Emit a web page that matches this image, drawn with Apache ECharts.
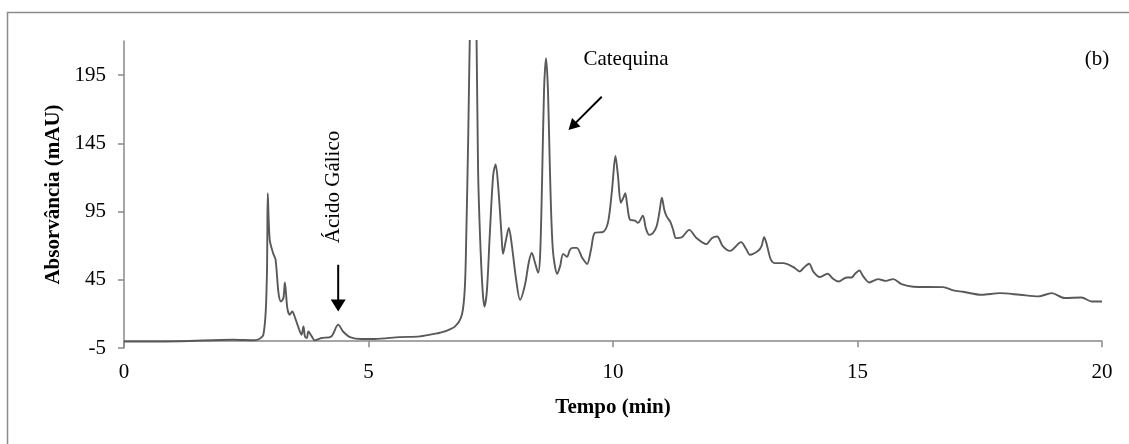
<!DOCTYPE html>
<html>
<head>
<meta charset="utf-8">
<script src="https://cdn.jsdelivr.net/npm/echarts@6/dist/echarts.min.js"></script>
<style>
	html, body { margin: 0; padding: 0; background: #fff; }
	#chart { width: 1129px; height: 444px; }
</style>
</head>
<body>
<div id="chart"></div>
<script>
// retention time (min)
var tempo = [
	0, 1.15, 2.23, 2.68, 2.85, 2.92, 2.94, 2.98, 3.05, 3.10,
	3.16, 3.21, 3.26, 3.29, 3.34, 3.39, 3.44, 3.50, 3.56, 3.63,
	3.67, 3.70, 3.74, 3.77, 3.84, 3.90, 4.04, 4.24, 4.38, 4.48,
	4.62, 4.86, 5.13, 5.64, 6.05, 6.46, 6.56, 6.77, 6.91, 6.97,
	7.00, 7.04, 7.07, 7.14, 7.21, 7.24, 7.28, 7.33, 7.37, 7.42,
	7.48, 7.55, 7.60, 7.65, 7.72, 7.75, 7.81, 7.87, 7.93, 8.02,
	8.10, 8.20, 8.28, 8.34, 8.40, 8.47, 8.51, 8.55, 8.59, 8.63,
	8.67, 8.71, 8.77, 8.86, 8.92, 8.98, 9.06, 9.12, 9.18, 9.26,
	9.37, 9.47, 9.55, 9.63, 9.80, 9.90, 9.98, 10.05, 10.10, 10.16,
	10.21, 10.25, 10.29, 10.35, 10.45, 10.51, 10.61, 10.67, 10.74, 10.82,
	10.89, 10.95, 11.00, 11.05, 11.10, 11.17, 11.23, 11.29, 11.41, 11.56,
	11.71, 11.91, 12.02, 12.13, 12.24, 12.39, 12.62, 12.72, 12.80, 12.97,
	13.04, 13.09, 13.13, 13.18, 13.23, 13.31, 13.48, 13.69, 13.82, 13.90,
	14.01, 14.10, 14.23, 14.39, 14.50, 14.61, 14.78, 14.88, 14.95, 15.04,
	15.11, 15.24, 15.42, 15.58, 15.73, 15.90, 16.14, 16.75, 16.96, 17.16,
	17.54, 17.91, 18.32, 18.70, 18.97, 19.24, 19.58, 19.79, 20.0
];

// absorbance (mAU)
var absorvancia = [
	-0.2, 0, 1.1, 0.7, 4.7, 45, 108.4, 74.3, 64.5, 59.6,
	35.2, 29.1, 31.6, 43.0, 24.3, 19.4, 21.8, 17.0, 10.8, 4.7,
	10.8, 3.5, 2.3, 7.1, 3.5, 0.6, 2.3, 3.5, 12.1, 7.1,
	3.0, 1.6, 1.6, 3.0, 3.5, 6.2, 7.1, 10.8, 19.4, 39.1,
	77.9, 151.1, 219.4, 330, 220, 127, 77.9, 39.1, 25.4, 36.4,
	77.9, 121.8, 129.6, 114.5, 77.9, 64.0, 74, 83.0, 70.6, 45.0,
	30.3, 41.3, 58.2, 64.7, 58.2, 50.1, 63.3, 118.2, 184, 207.4,
	184, 125.5, 67.0, 49.4, 55.2, 64.0, 61.8, 67.0, 68.4, 68.4,
	61.1, 56.6, 67.0, 79.4, 80.1, 87.4, 110.8, 135.7, 121.8, 101.5,
	105, 108.4, 99.9, 88.9, 88.4, 86.7, 92.0, 83.0, 77.9, 79.4,
	84.0, 94.7, 105.2, 96.2, 91.3, 87.6, 81.6, 75.5, 76.2, 81.6,
	75.5, 71.1, 75.5, 76.7, 69.9, 66.2, 72.6, 67.7, 63.3, 66.2,
	69.9, 76.2, 72.8, 65.7, 59.6, 57.2, 57.2, 54.3, 51.1, 53.8,
	56.7, 50.8, 47.0, 49.4, 45.7, 43.7, 46.7, 46.7, 49.4, 51.8,
	47.9, 43.0, 45.5, 44.2, 45.5, 41.8, 39.9, 39.6, 37.2, 36.2,
	34.0, 35.2, 34.0, 32.8, 35.2, 31.6, 32.0, 29.1, 29.1
];

var yTicks = [-5, 45, 95, 145, 195];
var xTicks = [0, 5, 10, 15, 20];

// arrows: [start, tip] in data units
var setaGalico = [[4.38, 56.0], [4.38, 21.8]];
var setaCatequina = [[9.77, 179.1], [9.09, 154.8]];

var fontFam = '"Liberation Serif", "Times New Roman", serif',
	axisColor = '#898989',
	lineColor = '#595959';

var myChart = echarts.init(document.getElementById('chart'), null, { renderer: 'canvas' });

var data = tempo.map(function (t, i) {
	return [t, absorvancia[i]];
});

var option = {
	animation: false,
	backgroundColor: '#fff',
	grid: {
		left: 124,
		right: 27,
		top: 41,
		bottom: 96
	},
	xAxis: {
		type: 'value',
		min: 0,
		max: 20,
		interval: 5,
		name: 'Tempo (min)',
		nameLocation: 'middle',
		nameGap: 49,
		nameTextStyle: { fontFamily: fontFam, fontSize: 21, fontWeight: 'bold', color: '#000' },
		axisLine: { show: true, lineStyle: { color: axisColor, width: 1.5 } },
		axisTick: { show: true, length: 6, lineStyle: { color: axisColor, width: 1.5 }, customValues: xTicks },
		axisLabel: { fontFamily: fontFam, fontSize: 21, color: '#000', margin: 14, customValues: xTicks },
		splitLine: { show: false }
	},
	yAxis: {
		type: 'value',
		min: -5,
		max: 220,
		interval: 50,
		name: 'Absorvância (mAU)',
		nameLocation: 'middle',
		nameGap: 58,
		nameTextStyle: { fontFamily: fontFam, fontSize: 21, fontWeight: 'bold', color: '#000' },
		axisLine: { show: true, lineStyle: { color: axisColor, width: 1.5 } },
		axisTick: { show: true, length: 6, lineStyle: { color: axisColor, width: 1.5 }, customValues: yTicks },
		axisLabel: { fontFamily: fontFam, fontSize: 21, color: '#000', margin: 18, customValues: yTicks },
		splitLine: { show: false }
	},
	series: [{
		type: 'line',
		data: data,
		showSymbol: false,
		smooth: 0.3,
		clip: true,
		lineStyle: { color: lineColor, width: 1.9 }
	}],
	graphic: [
		{
			type: 'polyline',
			shape: { points: [[7.5, 444], [7.5, 12.5], [1129, 12.5]] },
			style: { stroke: '#8c8c8c', lineWidth: 1.5, fill: null }
		},
		{
			type: 'text',
			x: 626, y: 59,
			style: { text: 'Catequina', font: '21px ' + fontFam, fill: '#000', align: 'center', verticalAlign: 'middle' }
		},
		{
			type: 'text',
			x: 1097, y: 59,
			style: { text: '(b)', font: '21px ' + fontFam, fill: '#000', align: 'center', verticalAlign: 'middle' }
		},
		{
			type: 'text',
			x: 333, y: 187,
			rotation: Math.PI / 2,
			style: { text: 'Ácido Gálico', font: '21px ' + fontFam, fill: '#000', align: 'center', verticalAlign: 'middle' }
		}
	]
};

myChart.setOption(option);

// arrows placed through the chart's own scales
function arrow(seta, headLen, headW) {
	var p0 = myChart.convertToPixel({ gridIndex: 0 }, seta[0]),
		p1 = myChart.convertToPixel({ gridIndex: 0 }, seta[1]),
		dx = p1[0] - p0[0],
		dy = p1[1] - p0[1],
		len = Math.sqrt(dx * dx + dy * dy),
		ux = dx / len,
		uy = dy / len,
		bx = p1[0] - ux * headLen,
		by = p1[1] - uy * headLen;

	return [
		{
			type: 'line',
			shape: { x1: p0[0], y1: p0[1], x2: bx + ux, y2: by + uy },
			style: { stroke: '#000', lineWidth: 2 }
		},
		{
			type: 'polygon',
			shape: { points: [
				[p1[0], p1[1]],
				[bx - uy * headW / 2, by + ux * headW / 2],
				[bx + uy * headW / 2, by - ux * headW / 2]
			] },
			style: { fill: '#000' }
		}
	];
}

myChart.setOption({
	graphic: option.graphic.concat(arrow(setaGalico, 12, 15), arrow(setaCatequina, 11, 12))
});
</script>
</body>
</html>
